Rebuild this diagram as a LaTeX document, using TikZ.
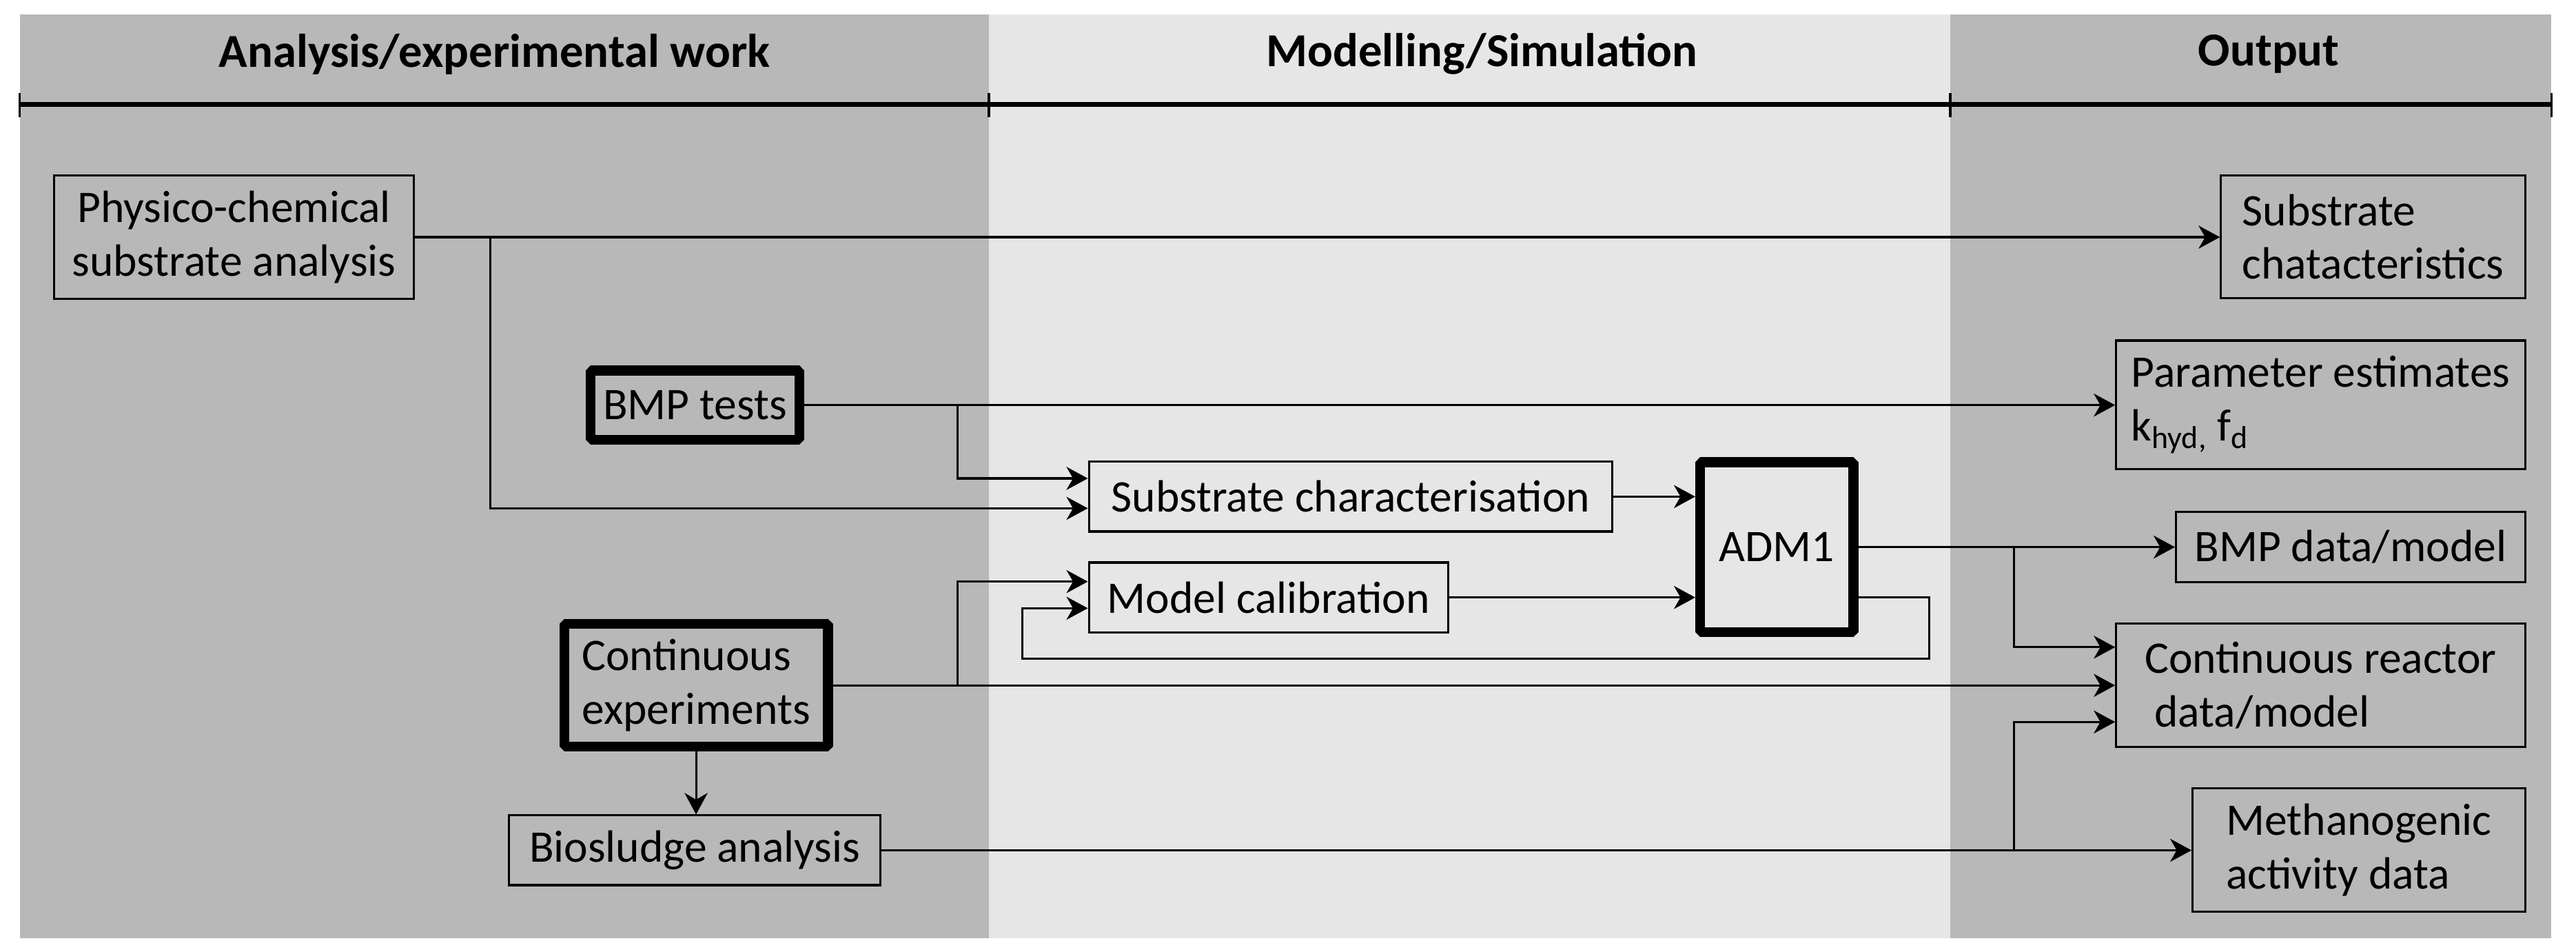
\documentclass[tikz,border=0pt]{standalone}
\usepackage{fontspec}
\setmainfont{Carlito}
\usetikzlibrary{arrows.meta,calc}
\definecolor{panelgray}{HTML}{B8B8B8}
\definecolor{panellight}{HTML}{E6E6E6}
\begin{document}
\begin{tikzpicture}[x=1pt,y=-1pt,
  every node/.style={font=\fontsize{27.5}{32.5}\selectfont, inner sep=0pt},
  box/.style={draw, line width=1.3pt, align=center},
  lbox/.style={draw, line width=1.3pt, align=left},
  heavy/.style={draw, line width=6pt, line join=bevel, align=left},
  conn/.style={line width=1.3pt},
  arr/.style={conn, -{Stealth[length=13pt,width=14pt,inset=4pt]}},
  head/.style={font=\fontsize{28.8}{33}\selectfont\bfseries}]
\useasboundingbox (0,0) rectangle (1568,578.9);
\fill[white] (0,0) rectangle (1568,578.9);
% panels
\fill[panelgray] (12,9) rectangle (602,571);
\fill[panellight] (602,9) rectangle (1187,571);
\fill[panelgray] (1187,9) rectangle (1553,571);
% headers
\node[head] (h1) at (301,33) {Analysis/experimental work};
\node[head] (h2) at (902,33) {Modelling/Simulation};
\node[head] (h3) at (1381,33) {Output};
% ruler
\draw[line width=3pt] (12,63.5) -- (1553,63.5);
\foreach \x in {12,602,1187,1553} \draw[line width=1.5pt] (\x,56.6) -- (\x,71.3);
% nodes
\node[box, minimum width=218.8pt, minimum height=75.2pt] (phys) at (142.4,144.3) {Physico-chemical\\substrate analysis};
\node[heavy, minimum width=127.2pt, minimum height=42.2pt] (bmp) at (423.1,246.5) {BMP tests};
\node[heavy, minimum width=160.6pt, minimum height=74.7pt] (contexp) at (423.7,417.05) {Continuous\\experiments};
\node[box, minimum width=226pt, minimum height=42.4pt] (bio) at (422.9,517.4) {Biosludge analysis};
\node[box, minimum width=318.6pt, minimum height=42.4pt] (subchar) at (822.1,302.2) {Substrate characterisation};
\node[box, minimum width=218.7pt, minimum height=42.5pt] (modelcal) at (772.15,363.55) {Model calibration};
\node[heavy, align=center, minimum width=93.3pt, minimum height=103.4pt] (adm) at (1081.55,332.9) {ADM1};
\node[lbox, minimum width=185.1pt, minimum height=74.8pt] (subout) at (1444.45,144.1) {Substrate\\chatacteristics};
\node[lbox, minimum width=248.9pt, minimum height=78.2pt] (param) at (1412.55,246.3) {Parameter estimates\\k\textsubscript{hyd,} f\textsubscript{d}};
\node[box, minimum width=212.5pt, minimum height=42.7pt] (bmpdata) at (1430.75,332.85) {BMP data/model};
\node[lbox, minimum width=248.9pt, minimum height=75pt] (contreact) at (1412.55,417) {Continuous reactor\\\hspace*{6pt}data/model};
\node[lbox, minimum width=202.4pt, minimum height=75pt] (meth) at (1435.8,517.2) {Methanogenic\\activity data};
% junctions
\coordinate (j1) at (298.4,144.3);
\coordinate (j2) at (582.8,246.5);
\coordinate (j4) at (582.8,417.05);
\coordinate (j3) at (1225.9,332.9);
\coordinate (j5) at (1225.9,517.4);
\coordinate (fb) at (622.1,400.9);
% connectors
\draw[arr] (phys.east) -- (phys.east -| subout.west);
\draw[arr] (j1) |- ($(subchar.west)+(0,7.1)$);
\draw[arr] (bmp.east) -- (bmp.east -| param.west);
\draw[arr] (j2) |- ($(subchar.west)+(0,-11.1)$);
\draw[arr] (subchar.east) -- (subchar.east -| adm.west);
\draw[arr] (modelcal.east) -- (modelcal.east -| adm.west);
\draw[arr] (adm.east |- modelcal.east) -- ++(43,0) |- (fb) |- ($(modelcal.west)+(0,6.55)$);
\draw[arr] (contexp.east) -- (contexp.east -| contreact.west);
\draw[arr] (j4) |- ($(modelcal.west)+(0,-9.65)$);
\draw[arr] (contexp.south) -- (contexp.south |- bio.north);
\draw[arr] (bio.east) -- (bio.east -| meth.west);
\draw[arr] (j5) |- ($(contreact.west)+(0,22.3)$);
\draw[arr] (adm.east) -- (adm.east -| bmpdata.west);
\draw[arr] (j3) |- ($(contreact.west)+(0,-23.2)$);
\end{tikzpicture}
\end{document}
